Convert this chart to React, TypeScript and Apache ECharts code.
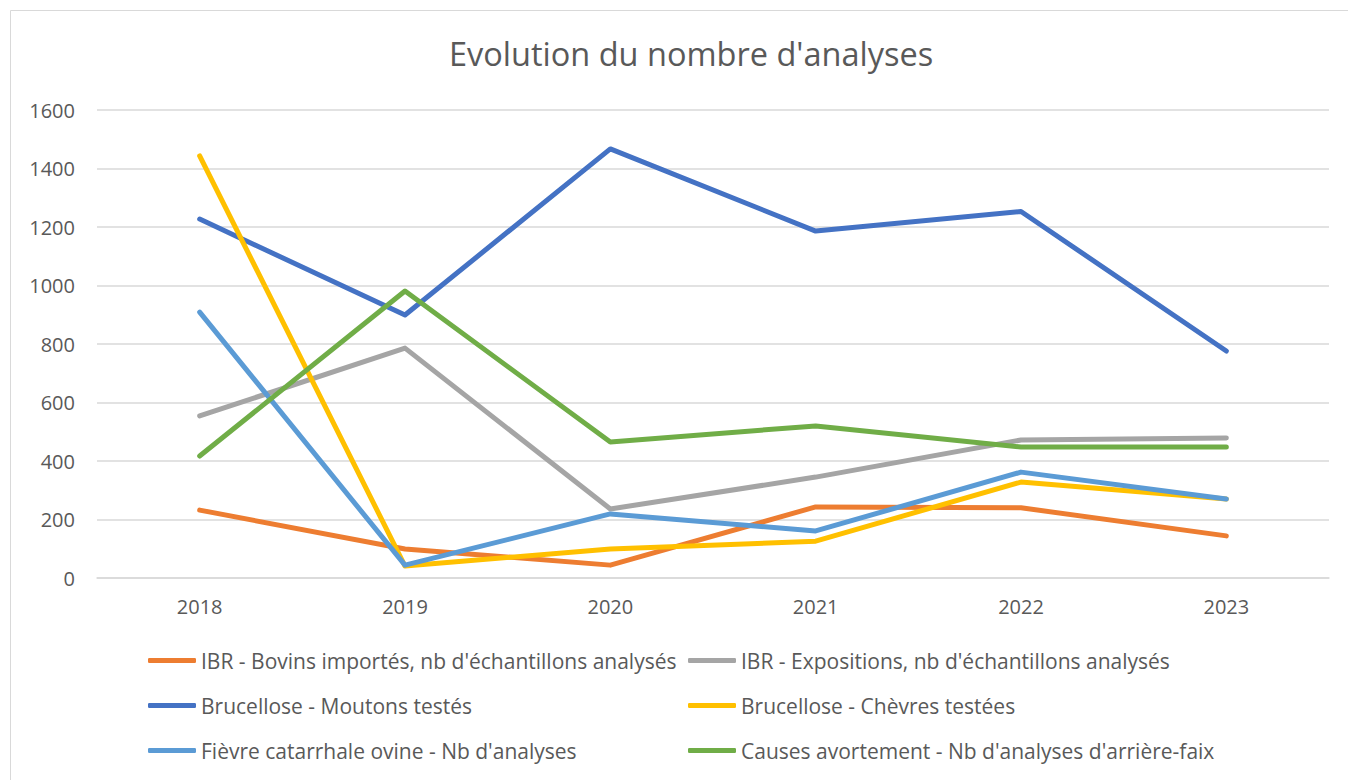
import React, { useEffect, useRef } from "react";
import * as echarts from "echarts";

const years = ["2018", "2019", "2020", "2021", "2022", "2023"];
const seriesNames = [
  "IBR - Bovins importés, nb d'échantillons analysés",
  "IBR - Expositions, nb d'échantillons analysés",
  "Brucellose - Moutons testés",
  "Brucellose - Chèvres testées",
  "Fièvre catarrhale ovine - Nb d'analyses",
  "Causes avortement - Nb d'analyses d'arrière-faix",
];
const ibrBovins = [232, 99, 44, 243, 240, 144];
const ibrExpositions = [554, 786, 236, 345, 472, 479];
const brucMoutons = [1227, 899, 1467, 1186, 1253, 776];
const brucChevres = [1443, 41, 99, 126, 328, 270];
const fco = [909, 44, 219, 161, 362, 270];
const avortement = [417, 981, 465, 520, 448, 448];
const seriesValues = [ibrBovins, ibrExpositions, brucMoutons, brucChevres, fco, avortement];
const colors = ["#ED7D31", "#A5A5A5", "#4472C4", "#FFC000", "#5B9BD5", "#70AD47"];

const FONT = "'Open Sans', sans-serif";

export default function App() {
  const ref = useRef<HTMLDivElement>(null);
  useEffect(() => {
    if (!ref.current) return;
    const chart = echarts.init(ref.current, undefined, { renderer: "svg" });
    const legendPos = [
      { left: 148, top: 650 },
      { left: 688, top: 650 },
      { left: 148, top: 695 },
      { left: 688, top: 695 },
      { left: 148, top: 740 },
      { left: 688, top: 740 },
    ];
    chart.setOption({
      animation: false,
      title: {
        text: "Evolution du nombre d'analyses",
        left: 444,
        top: 32,
        textStyle: { fontFamily: FONT, fontSize: 32.5, fontWeight: "normal", color: "#595959" },
      },
      graphic: [
        {
          type: "rect",
          shape: { x: 10.5, y: 10.5, width: 1345, height: 780 },
          style: { fill: "none", stroke: "#d9d9d9", lineWidth: 1 },
          silent: true,
        },
      ],
      legend: seriesNames.map((n, i) => ({
        data: [n],
        left: legendPos[i].left,
        top: legendPos[i].top,
        icon: "roundRect",
        itemWidth: 48,
        itemHeight: 5,
        itemGap: 0,
        padding: 0,
        textStyle: { fontFamily: FONT, fontSize: 21, color: "#595959" },
      })),
      grid: { left: 97, right: 19, top: 110, bottom: 202, containLabel: false },
      xAxis: {
        type: "category",
        data: years,
        boundaryGap: true,
        axisLine: { show: true, lineStyle: { color: "#d9d9d9", width: 1.5 } },
        axisTick: { show: false },
        axisLabel: { fontFamily: FONT, fontSize: 20, color: "#595959", margin: 18 },
      },
      yAxis: {
        type: "value",
        min: 0,
        max: 1600,
        interval: 200,
        axisLine: { show: false },
        axisTick: { show: false },
        splitLine: { lineStyle: { color: "#d9d9d9", width: 1.5 } },
        axisLabel: {
          fontFamily: FONT,
          fontSize: 20,
          color: "#595959",
          margin: 22,
          formatter: (v: number) => String(v),
        },
      },
      series: seriesNames.map((n, i) => ({
        name: n,
        type: "line",
        data: seriesValues[i],
        color: colors[i],
        showSymbol: false,
        symbol: "none",
        lineStyle: { width: 5, color: colors[i], cap: "round", join: "round" },
      })),
    });
    return () => chart.dispose();
  }, []);
  return (
    <div
      ref={ref}
      style={{ position: "absolute", left: 0, top: 0, width: 1348, height: 780, background: "#fff" }}
    />
  );
}
